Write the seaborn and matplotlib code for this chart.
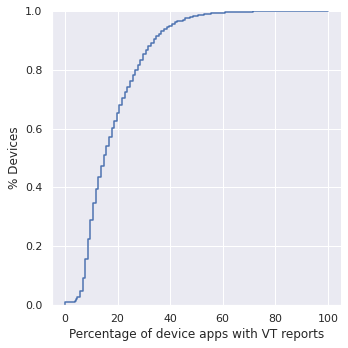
import numpy as np
import pandas as pd
import seaborn as sns
import matplotlib
matplotlib.use("Agg")
import matplotlib.pyplot as plt

# Step positions (percentage of device apps with VT reports)
pct = [0.0, 3.7, 4.2, 4.7, 5.7, 6.7, 7.7, 8.7, 9.7, 10.7, 11.7, 12.7, 13.7, 14.7,
       15.7, 16.7, 17.7, 18.7, 19.7, 20.7, 21.7, 22.7, 23.7, 24.7, 25.7, 26.7,
       27.7, 28.7, 29.7, 30.7, 31.7, 32.7, 33.7, 34.7, 35.7, 36.7, 37.7, 38.7,
       39.7, 40.7, 41.7, 42.7, 43.7, 44.7, 45.7, 46.7, 47.7, 48.7, 49.7, 50.7,
       51.7, 52.7, 53.7, 54.7, 55.7, 56.7, 57.7, 58.7, 60.7, 62.7, 64.7, 67.7,
       71.7, 76.7, 100.0]
# Cumulative proportion of devices after each step
cdf = [0.008, 0.013, 0.019, 0.026, 0.048, 0.091, 0.155, 0.224, 0.289, 0.346,
       0.393, 0.434, 0.473, 0.510, 0.542, 0.573, 0.601, 0.626, 0.654, 0.680,
       0.703, 0.723, 0.743, 0.763, 0.782, 0.799, 0.816, 0.834, 0.853, 0.867,
       0.881, 0.892, 0.904, 0.915, 0.923, 0.932, 0.939, 0.946, 0.951, 0.956,
       0.962, 0.965, 0.968, 0.971, 0.975, 0.977, 0.980, 0.982, 0.984, 0.986,
       0.988, 0.989, 0.990, 0.991, 0.992, 0.993, 0.994, 0.995, 0.996, 0.997,
       0.998, 0.9985, 0.999, 0.9995, 1.0]

weights = np.diff(np.concatenate([[0.0], cdf]))
df = pd.DataFrame({"pct": pct, "w": weights})

sns.set_theme()
g = sns.displot(data=df, x="pct", weights="w", kind="ecdf", height=5)
g.set_axis_labels("Percentage of device apps with VT reports", "% Devices")
ax = g.ax
ax.set_ylim(0, 1.0)
g.fig.set_size_inches(348 / 72, 348 / 72)
g.fig.subplots_adjust(left=0.149, right=0.98, top=0.968, bottom=0.124)
g.fig.savefig("out.png", dpi=72)
